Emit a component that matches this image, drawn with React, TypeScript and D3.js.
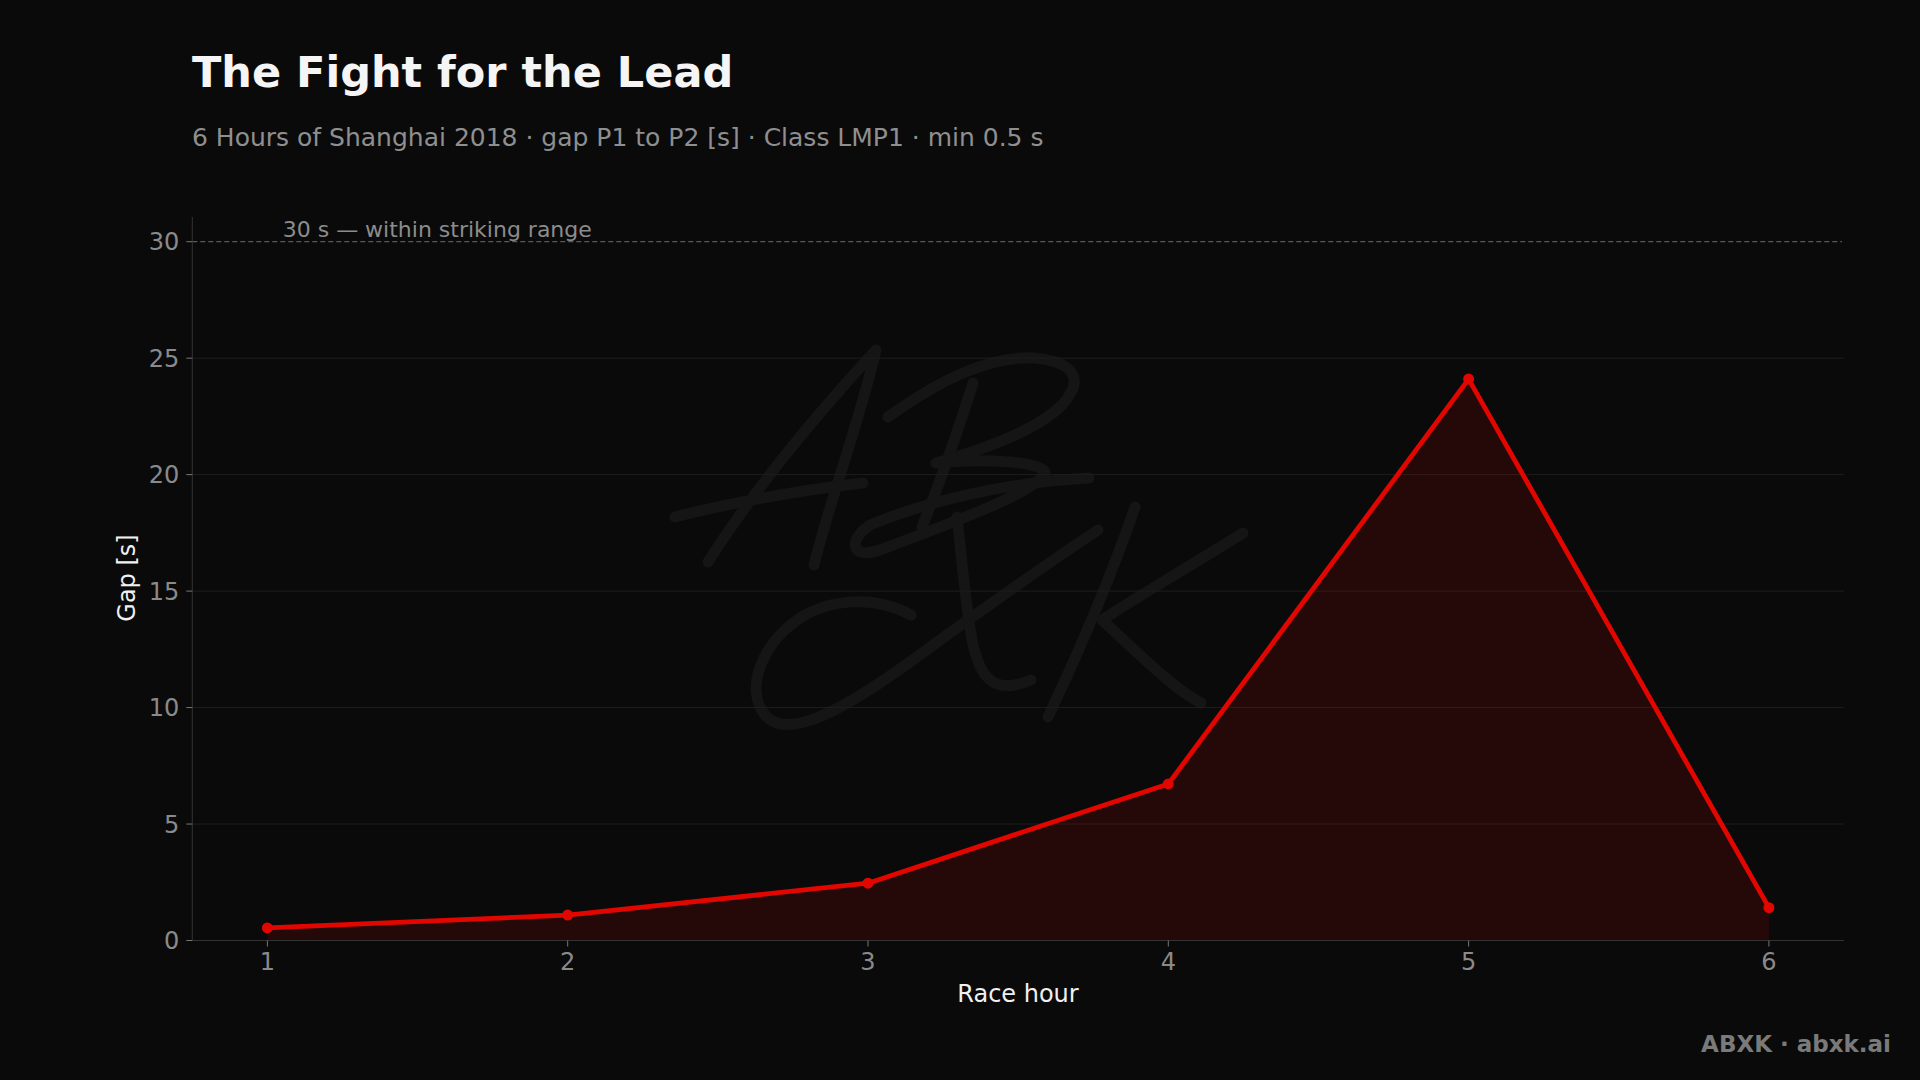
import React from "react";
import * as d3 from "d3";

const hours = [1, 2, 3, 4, 5, 6];
const gapSeconds = [0.54, 1.09, 2.46, 6.72, 24.1, 1.41];
const yTicks = [0, 5, 10, 15, 20, 25, 30];
const title = "The Fight for the Lead";
const subtitle = "6 Hours of Shanghai 2018 · gap P1 to P2 [s] · Class LMP1 · min 0.5 s";
const thresholdValue = 30;
const thresholdLabel = "30 s — within striking range";

const W = 1920;
const H = 1080;
const M = { left: 192.3, right: 1844, top: 217, bottom: 940.5 };
const FONT = "'DejaVu Sans', sans-serif";

const sigStrokes = [
  "M708,562 C760,480 830,400 876,350 C860,420 830,500 814,565",
  "M675,517 C720,505 800,490 863,483",
  "M973,383 C955,440 935,495 922,527",
  "M888,417 C940,380 990,355 1035,358 C1075,362 1085,380 1062,405 C1035,432 975,452 936,463 C990,458 1040,462 1045,472 C1040,490 960,520 880,550 C850,560 848,540 870,525 C930,500 1010,482 1089,478",
  "M911,615 C880,598 835,596 800,618 C760,645 745,690 765,715 C790,745 860,700 940,640 C1010,590 1060,555 1098,530",
  "M957,517 C962,560 965,600 972,640 C980,680 995,695 1031,680",
  "M1135,507 C1110,580 1075,660 1048,717",
  "M1243,533 C1200,560 1140,595 1102,620 C1140,655 1175,690 1201,703",
];

export default function App() {
  React.useEffect(() => {
    document.body.style.margin = "0";
    document.body.style.background = "#0a0a0a";
  }, []);

  const x = d3.scaleLinear().domain([0.75, 6.25]).range([M.left, M.right]);
  const y = d3.scaleLinear().domain([0, 31.06]).range([M.bottom, M.top]);

  const pts: [number, number][] = hours.map((h, i) => [h, gapSeconds[i]]);
  const line = d3
    .line<[number, number]>()
    .x((d) => x(d[0]))
    .y((d) => y(d[1]));
  const area = d3
    .area<[number, number]>()
    .x((d) => x(d[0]))
    .y0(y(0))
    .y1((d) => y(d[1]));

  return (
    <svg width={W} height={H} style={{ display: "block", background: "#0a0a0a" }} fontFamily={FONT}>
      <rect width={W} height={H} fill="#0a0a0a" />

      {/* signature watermark */}
      <g fill="none" stroke="#151515" strokeWidth={11} strokeLinecap="round" strokeLinejoin="round">
        {sigStrokes.map((d, i) => (
          <path key={i} d={d} />
        ))}
      </g>

      {/* grid */}
      {yTicks
        .filter((t) => t > 0 && t !== thresholdValue)
        .map((t) => (
          <line key={t} x1={M.left} x2={M.right} y1={y(t)} y2={y(t)} stroke="#1e1e1e" strokeWidth={1} />
        ))}

      {/* threshold */}
      <line
        x1={M.left}
        x2={M.right - 2}
        y1={y(thresholdValue)}
        y2={y(thresholdValue)}
        stroke="#5a5a5a"
        strokeWidth={1.2}
        strokeDasharray="5 3"
      />
      <text x={282.7} y={237} fontSize={22} fill="#8c8c8c">
        {thresholdLabel}
      </text>

      {/* area + line */}
      <path d={area(pts) || ""} fill="#e10600" fillOpacity={0.13} />
      <path d={line(pts) || ""} fill="none" stroke="#e10600" strokeWidth={4.8} strokeLinejoin="round" />
      {pts.map((p, i) => (
        <circle key={i} cx={x(p[0])} cy={y(p[1])} r={5.5} fill="#e10600" />
      ))}

      {/* axes */}
      <line x1={M.left} x2={M.left} y1={M.top} y2={M.bottom} stroke="#333" strokeWidth={1} />
      <line x1={M.left} x2={M.right} y1={M.bottom} y2={M.bottom} stroke="#333" strokeWidth={1} />
      {yTicks.map((t) => (
        <g key={t}>
          <line x1={M.left - 6} x2={M.left} y1={y(t)} y2={y(t)} stroke="#777" strokeWidth={1} />
          <text x={M.left - 13} y={y(t)} dy="0.36em" textAnchor="end" fontSize={24} fill="#8a8a8a">
            {t}
          </text>
        </g>
      ))}
      {hours.map((h) => (
        <g key={h}>
          <line x1={x(h)} x2={x(h)} y1={M.bottom} y2={M.bottom + 6} stroke="#777" strokeWidth={1} />
          <text x={x(h)} y={970} textAnchor="middle" fontSize={24} fill="#8a8a8a">
            {h}
          </text>
        </g>
      ))}

      <text x={1018} y={1001.5} textAnchor="middle" fontSize={24} fill="#f0f0f0">
        Race hour
      </text>
      <text
        transform={`translate(135,578) rotate(-90)`}
        textAnchor="middle"
        fontSize={24}
        fill="#f0f0f0"
      >
        Gap [s]
      </text>

      {/* titles */}
      <text x={192} y={87} fontSize={43} fontWeight="bold" fill="#f5f5f5">
        {title}
      </text>
      <text x={192} y={146} fontSize={25} fill="#8f8f8f">
        {subtitle}
      </text>

      <text x={1891} y={1052} textAnchor="end" fontSize={23} fontWeight="bold" fill="#7a7a7a">
        ABXK · abxk.ai
      </text>
    </svg>
  );
}
